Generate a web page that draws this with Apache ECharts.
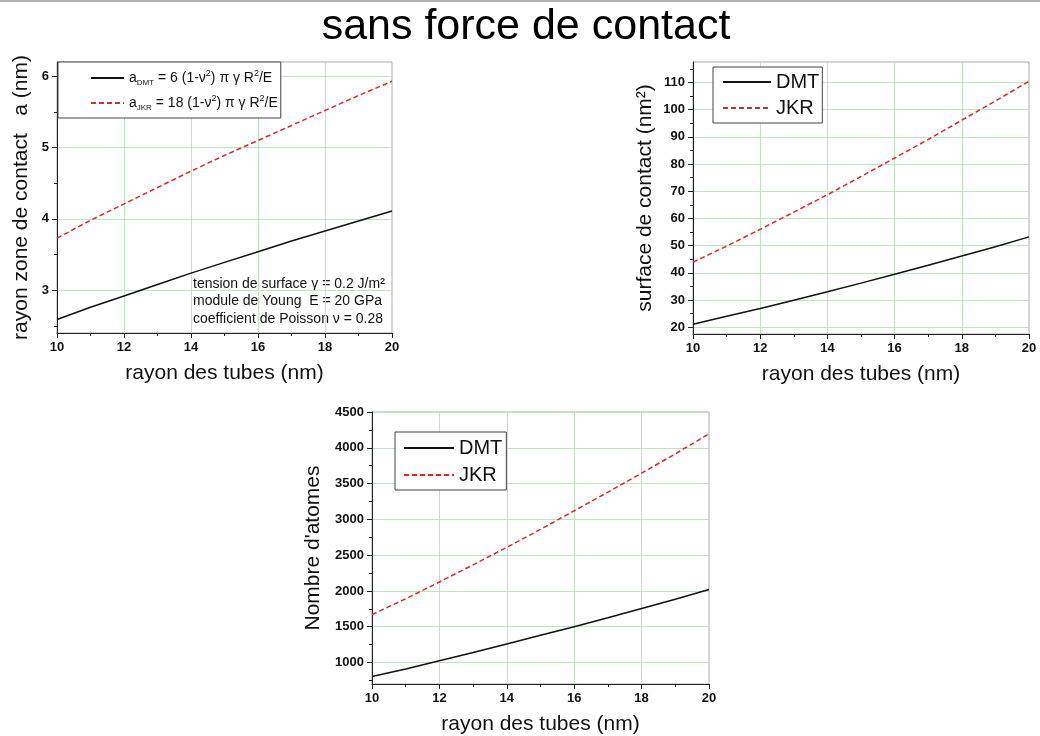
<!DOCTYPE html>
<html>
<head>
<meta charset="utf-8">
<title>sans force de contact</title>
<script src="https://cdn.jsdelivr.net/npm/echarts@6/dist/echarts.min.js"></script>
<style>
  body { margin: 0; background: #fff; }
  #chart { width: 1040px; height: 736px; }
</style>
</head>
<body>
<div id="chart"></div>
<script>
// rayon des tubes (nm)
const rayonTubes = [10, 11, 12, 13, 14, 15, 16, 17, 18, 19, 20]
// rayon zone de contact a (nm)
const rayonDMT = [2.59, 2.76, 2.92, 3.08, 3.24, 3.39, 3.54, 3.69, 3.83, 3.97, 4.11]
const rayonJKR = [3.73, 3.98, 4.21, 4.44, 4.67, 4.89, 5.10, 5.31, 5.52, 5.73, 5.93]
// surface de contact (nm2)
const surfaceDMT = [21.1, 24.0, 26.9, 29.9, 33.0, 36.2, 39.5, 42.8, 46.2, 49.6, 53.2]
const surfaceJKR = [43.9, 49.8, 56.0, 62.3, 68.7, 75.4, 82.2, 89.0, 96.1, 103.2, 110.4]
// nombre d'atomes
const atomesDMT = [805, 910, 1025, 1140, 1260, 1380, 1500, 1625, 1755, 1885, 2020]
const atomesJKR = [1670, 1890, 2125, 2365, 2610, 2860, 3120, 3380, 3645, 3915, 4195]

// graduations des axes y
const rayonTicks = [3, 4, 5, 6]
const rayonMinor = [2.5, 3.5, 4.5, 5.5]
const surfaceTicks = [20, 30, 40, 50, 60, 70, 80, 90, 100, 110]
const surfaceMinor = [25, 35, 45, 55, 65, 75, 85, 95, 105, 115]
const atomesTicks = [1000, 1500, 2000, 2500, 3000, 3500, 4000, 4500]
const atomesMinor = [750, 1250, 1750, 2250, 2750, 3250, 3750, 4250]

const FONT = 'Liberation Sans, Arial, sans-serif'
const GREEN = '#bde6bd'
const RED = '#e02828'

function pairs (xs, ys) {
  return xs.map((x, i) => [x, ys[i]])
}

function xAxe (grid) {
  return {
    type: 'value',
    gridIndex: grid,
    min: 10,
    max: 20,
    interval: 2,
    name: 'rayon des tubes (nm)',
    nameLocation: 'middle',
    nameGap: 30,
    nameTextStyle: { fontSize: 21, fontFamily: FONT, color: '#111' },
    axisLine: { lineStyle: { color: '#222', width: 1 } },
    axisTick: { length: 5, lineStyle: { color: '#222' } },
    minorTick: { show: true, splitNumber: 2, length: 3, lineStyle: { color: '#222' } },
    axisLabel: { fontSize: 13, fontWeight: 'bold', fontFamily: FONT, color: '#111', margin: 8 },
    splitLine: { show: true, showMinLine: false, showMaxLine: false, lineStyle: { color: GREEN } }
  }
}

// axe principal : etiquettes, graduations et lignes de grille
function yAxe (grid, min, max, ticks, name, gap) {
  return {
    type: 'value',
    gridIndex: grid,
    position: 'left',
    min: min,
    max: max,
    name: name,
    nameLocation: 'middle',
    nameRotate: 90,
    nameGap: gap,
    nameTextStyle: { fontSize: 21, fontFamily: FONT, color: '#111' },
    axisLine: { show: true, lineStyle: { color: '#222', width: 1 } },
    axisTick: { show: true, length: 5, customValues: ticks, lineStyle: { color: '#222' } },
    axisLabel: {
      fontSize: 13,
      fontWeight: 'bold',
      fontFamily: FONT,
      color: '#111',
      margin: 8,
      customValues: ticks,
      formatter: v => String(v)
    },
    splitLine: { show: true, lineStyle: { color: GREEN } }
  }
}

// axe secondaire : seulement les petites graduations
function yMinor (grid, min, max, ticks) {
  return {
    type: 'value',
    gridIndex: grid,
    position: 'left',
    min: min,
    max: max,
    axisLine: { show: false },
    axisTick: { show: true, length: 3, customValues: ticks, lineStyle: { color: '#222' } },
    axisLabel: { show: false },
    splitLine: { show: false }
  }
}

function serie (name, grid, ys, dashed) {
  return {
    type: 'line',
    name: name,
    xAxisIndex: grid,
    yAxisIndex: grid * 2,
    data: pairs(rayonTubes, ys),
    symbol: 'none',
    lineStyle: { color: dashed ? RED : '#111', width: 1.5, type: dashed ? [5, 3] : 'solid' },
    itemStyle: { color: dashed ? RED : '#111' }
  }
}

function legende (names, left, top, padding, itemWidth, itemHeight, itemGap, fontSize) {
  return {
    data: names,
    orient: 'vertical',
    left: left,
    top: top,
    padding: padding,
    itemWidth: itemWidth,
    itemHeight: itemHeight,
    itemGap: itemGap,
    borderColor: '#444',
    borderWidth: 1,
    backgroundColor: '#fff',
    // pas de rond sur le trait de la legende
    itemStyle: { opacity: 0 },
    textStyle: { fontSize: fontSize, fontFamily: FONT, color: '#111', lineHeight: itemHeight }
  }
}

const formules = {
  aDMT: '{t|a}{sub|DMT}{t| = 6 (1-ν}{sup|2}{t|) π γ R}{sup|2}{t|/E}',
  aJKR: '{t|a}{sub|JKR}{t| = 18 (1-ν}{sup|2}{t|) π γ R}{sup|2}{t|/E}'
}

const leftLegend = legende(['aDMT', 'aJKR'], 58, 62, [7, 3, 6, 32], 33, 18, 7, 14)
leftLegend.formatter = name => formules[name]
leftLegend.textStyle.rich = {
  t: { fontSize: 14, fontFamily: FONT, color: '#111', lineHeight: 18 },
  sub: { fontSize: 8, fontFamily: FONT, color: '#111', lineHeight: 9, verticalAlign: 'bottom' },
  sup: { fontSize: 9, fontFamily: FONT, color: '#111', lineHeight: 10, verticalAlign: 'top' }
}

const chart = echarts.init(document.getElementById('chart'))
chart.setOption({
  animation: false,
  backgroundColor: '#fff',
  grid: [
    { left: 57, top: 62, width: 335, height: 271, show: true, borderColor: '#aaa', borderWidth: 1 },
    { left: 693, top: 62, width: 336, height: 272, show: true, borderColor: '#aaa', borderWidth: 1 },
    { left: 372, top: 412, width: 337, height: 273, show: true, borderColor: '#aaa', borderWidth: 1 }
  ],
  xAxis: [xAxe(0), xAxe(1), xAxe(2)],
  yAxis: [
    yAxe(0, 2.4, 6.2, rayonTicks, 'rayon zone de contact   a (nm)', 25),
    yMinor(0, 2.4, 6.2, rayonMinor),
    yAxe(1, 17.5, 117.5, surfaceTicks, 'surface de contact (nm²)', 37),
    yMinor(1, 17.5, 117.5, surfaceMinor),
    yAxe(2, 700, 4500, atomesTicks, "Nombre d'atomes", 48),
    yMinor(2, 700, 4500, atomesMinor)
  ],
  legend: [
    leftLegend,
    legende(['DMT', 'JKR'], 713, 67, [5, 3, 5, 9], 48, 20, 6, 20),
    legende(['DMT', 'JKR'], 395, 432, [6, 4, 5, 8], 50, 20, 7, 20)
  ],
  series: [
    serie('aDMT', 0, rayonDMT, false),
    serie('aJKR', 0, rayonJKR, true),
    serie('DMT', 1, surfaceDMT, false),
    serie('JKR', 1, surfaceJKR, true),
    serie('DMT', 2, atomesDMT, false),
    serie('JKR', 2, atomesJKR, true)
  ],
  graphic: [
    { type: 'rect', shape: { x: 0, y: 0, width: 1040, height: 2 }, style: { fill: '#b0b0b0' } },
    {
      type: 'text',
      x: 526,
      y: 27,
      style: { text: 'sans force de contact', fontSize: 43, fontFamily: FONT, fill: '#000', align: 'center', verticalAlign: 'middle' }
    },
    // parametres du calcul
    {
      type: 'text',
      x: 193,
      y: 275,
      style: {
        text: 'tension de surface γ = 0.2 J/m²\nmodule de Young  E = 20 GPa\ncoefficient de Poisson ν = 0.28',
        fontSize: 14,
        lineHeight: 17.5,
        fontFamily: FONT,
        fill: '#111'
      }
    }
  ]
})
</script>
</body>
</html>
